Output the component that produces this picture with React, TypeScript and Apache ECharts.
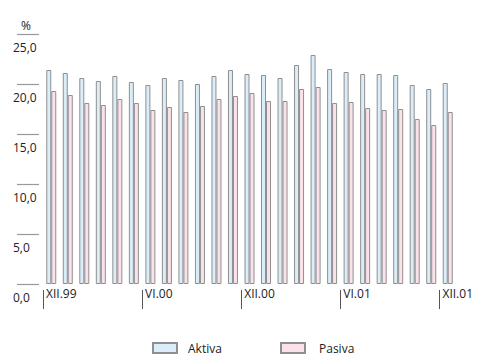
import React, { useEffect, useRef } from "react";
import * as echarts from "echarts";

const categories = [
  "XII.99", "I.00", "II.00", "III.00", "IV.00", "V.00", "VI.00", "VII.00", "VIII.00",
  "IX.00", "X.00", "XI.00", "XII.00", "I.01", "II.01", "III.01", "IV.01", "V.01",
  "VI.01", "VII.01", "VIII.01", "IX.01", "X.01", "XI.01", "XII.01",
];
const aktiva = [
  21.4, 21.1, 20.6, 20.3, 20.8, 20.2, 19.9, 20.6, 20.4, 20.0, 20.8, 21.4, 21.0,
  20.9, 20.6, 21.9, 22.9, 21.5, 21.2, 21.0, 21.0, 20.9, 19.9, 19.5, 20.1,
];
const pasiva = [
  19.3, 18.9, 18.1, 17.9, 18.5, 18.1, 17.4, 17.7, 17.2, 17.8, 18.5, 18.8, 19.1,
  18.3, 18.3, 19.5, 19.7, 18.1, 18.2, 17.6, 17.4, 17.5, 16.5, 15.9, 17.2,
];
const yTicks = { min: 0, max: 25, interval: 5 };
const unitLabel = "%";

const FONT = "Open Sans";
const TEXT = "#222";
const LINE = "#8f8f8f";

export default function App() {
  const ref = useRef<HTMLDivElement>(null);
  useEffect(() => {
    if (!ref.current) return;
    const chart = echarts.init(ref.current, undefined, { renderer: "svg" });
    const showIdx = (i: number) => i % 6 === 0;
    chart.setOption({
      animation: false,
      textStyle: { fontFamily: FONT, color: TEXT },
      title: {
        text: unitLabel,
        left: 16,
        top: 14,
        textStyle: { fontFamily: FONT, fontSize: 12, fontWeight: "normal", color: TEXT },
      },
      grid: { left: 43, right: 21, top: 34, bottom: 72 },
      legend: [
        {
          data: ["Aktiva"],
          left: 147,
          top: 337,
          icon: "rect",
          itemWidth: 24,
          itemHeight: 10,
          textStyle: { fontFamily: FONT, fontSize: 12, color: TEXT, padding: [3, 0, 0, 6] },
        },
        {
          data: ["Pasiva"],
          left: 275,
          top: 337,
          icon: "rect",
          itemWidth: 24,
          itemHeight: 10,
          textStyle: { fontFamily: FONT, fontSize: 12, color: TEXT, padding: [1, 0, 0, 9] },
        },
      ],
      xAxis: [
        {
          type: "category",
          data: categories,
          position: "bottom",
          axisLine: { show: false },
          axisTick: { show: false },
          axisLabel: { show: false },
        },
        {
          type: "category",
          data: [...categories, ""],
          boundaryGap: false,
          position: "bottom",
          offset: 6,
          axisLine: { show: false },
          axisTick: {
            show: true,
            interval: (i: number) => showIdx(i),
            length: 19,
            lineStyle: { color: "#555", width: 1 },
          },
          axisLabel: {
            interval: (i: number) => showIdx(i),
            align: "left",
            margin: -3,
            padding: [0, 0, 0, 3],
            fontFamily: FONT,
            fontSize: 12,
            color: TEXT,
          },
        },
      ],
      yAxis: {
        type: "value",
        min: yTicks.min,
        max: yTicks.max,
        interval: yTicks.interval,
        offset: 4,
        axisLine: { show: false },
        splitLine: { show: false },
        axisTick: { show: false },
        axisLabel: {
          formatter: (v: number) => v.toFixed(1).replace(".", ","),
          align: "left",
          verticalAlign: "top",
          margin: 26,
          padding: [7, 0, 0, 0],
          fontFamily: FONT,
          fontSize: 12,
          color: TEXT,
        },
      },
      series: [
        {
          name: "Aktiva",
          type: "bar",
          data: aktiva,
          barWidth: 5,
          barGap: "0%",
          itemStyle: { color: "#dbedf9", borderColor: LINE, borderWidth: 1 },
        },
        {
          name: "Pasiva",
          type: "bar",
          data: pasiva,
          barWidth: 5,
          barGap: "0%",
          itemStyle: { color: "#fbe2ea", borderColor: LINE, borderWidth: 1 },
        },
      ],
    });

    const tickValues: number[] = [];
    for (let v = yTicks.min; v <= yTicks.max; v += yTicks.interval) tickValues.push(v);
    const tickLines = tickValues.map((v) => {
      const py = chart.convertToPixel({ yAxisIndex: 0 }, v) as number;
      const y = Math.round(py) + 0.5;
      return {
        type: "line",
        silent: true,
        shape: { x1: 17, y1: y, x2: 39, y2: y },
        style: { stroke: "#999999", lineWidth: 1.2 },
      };
    });
    chart.setOption({ graphic: tickLines });

    return () => chart.dispose();
  }, []);
  return <div ref={ref} style={{ width: 477, height: 356, position: "absolute", left: 0, top: 0 }} />;
}
